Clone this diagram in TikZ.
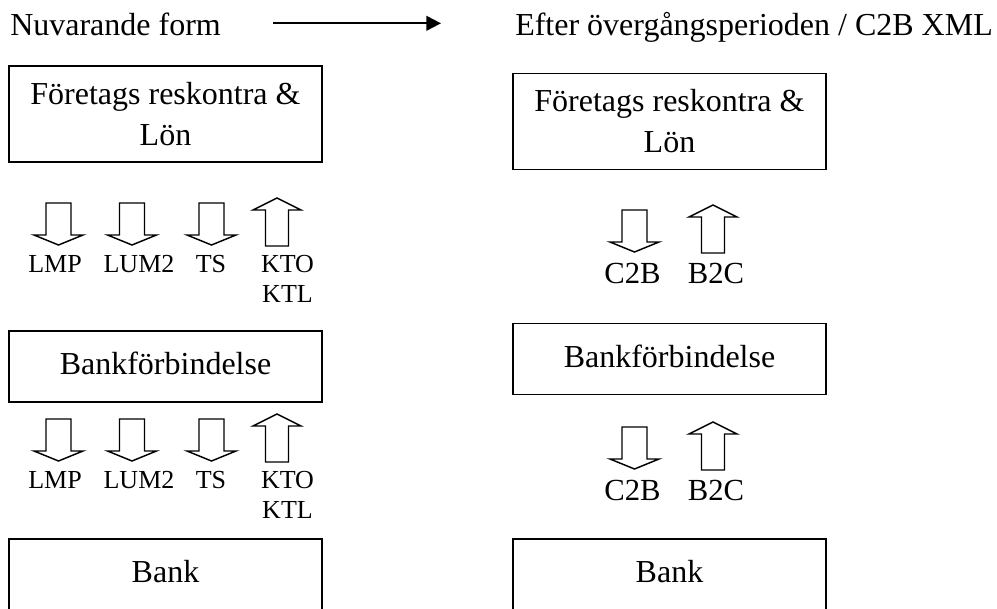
\documentclass[tikz,border=0pt]{standalone}
\usepackage{fontspec}
\setmainfont{Liberation Serif}
\usetikzlibrary{arrows.meta}
\usetikzlibrary{calc,positioning}
\tikzset{%
  >={Triangle[width=11pt,length=11pt]},
  % Specifications for style of nodes:
  base/.style = {rectangle, draw=black, line width=1pt,
    minimum width=234.75pt,
    inner sep=0pt,
    align=center, font=\fontsize{24}{30.75}\selectfont},
  twoline/.style = {base, minimum height=72pt},
  oneline/.style = {base, minimum height=53.25pt, text depth=0.45em},
  heading/.style = {inner sep=0pt, anchor=base west,
    font=\fontsize{24}{30.75}\selectfont},
  flowlabel/.style = {inner sep=0pt, anchor=base,
    font=\fontsize{19.5}{22.5}\selectfont},
  xmllabel/.style = {flowlabel, font=\fontsize{23}{27}\selectfont},
  % block arrows, origin at the top
  pics/downflow/.style = {code={
    \draw[line width=1.1pt] (-12.5,0) -- (12.5,0) -- (12.5,32) -- (24.5,32)
      -- (0,42) -- (-24.5,32) -- (-12.5,32) -- cycle;}},
  pics/upflow/.style = {code={
    \draw[line width=1.1pt] (0,0) -- (24,12) -- (11.5,12) -- (11.5,48)
      -- (-11.5,48) -- (-11.5,12) -- (-24,12) -- cycle;}},
}

\begin{document}
\begin{tikzpicture}[x=0.75pt,y=-0.75pt]
  \useasboundingbox (0,0) rectangle (997,608);
  % Headings
  \node(nuv)[heading] at (10,35) {Nuvarande form};
  \node(efter)[heading] at (515,35) {Efter övergångsperioden / C2B XML};
  \coordinate (hdrS) at (273,23.3);
  \coordinate (hdrE) at (441,23.3);
  \draw[->, line width=1.5pt] (hdrS) -- (hdrE);

  % Specification of nodes (position, etc.)
  \node(lonL)[twoline] at (165.5,114) {Företags reskontra \&\\ Lön};
  \node(bfL)[oneline] at (165.5,366.5) {Bankförbindelse};
  \node(bankL)[oneline] at (165.5,574.5) {Bank};
  \node(lonR)[twoline] at (669.5,121.5) {Företags reskontra \&\\ Lön};
  \node(bfR)[oneline] at (669.5,359) {Bankförbindelse};
  \node(bankR)[oneline] at (669.5,574.5) {Bank};

  % Nuvarande form
  \foreach \r/\ya/\yb/\yl in {1/203/198/272, 2/419/414/488}{
    \pic at (58.5,\ya) {downflow};
    \pic at (132,\ya) {downflow};
    \pic at (211.5,\ya) {downflow};
    \pic at (277,\yb) {upflow};
    \node(lmp\r)[flowlabel] at (55,\yl) {LMP};
    \node(lum\r)[flowlabel] at (139,\yl) {LUM2};
    \node(ts\r)[flowlabel] at (211,\yl) {TS};
    \node(kto\r)[flowlabel] at (287.5,\yl) {KTO};
    \node(ktl\r)[flowlabel] at (287.5,\yl+30) {KTL};
  }

  % C2B XML
  \foreach \r/\ya/\yb/\yl in {1/210/205/283, 2/427/422/500}{
    \pic at (634.5,\ya) {downflow};
    \pic at (713,\yb) {upflow};
    \node(ctb\r)[xmllabel] at (632.5,\yl) {C2B};
    \node(btc\r)[xmllabel] at (716,\yl) {B2C};
  }
\end{tikzpicture}
\end{document}
